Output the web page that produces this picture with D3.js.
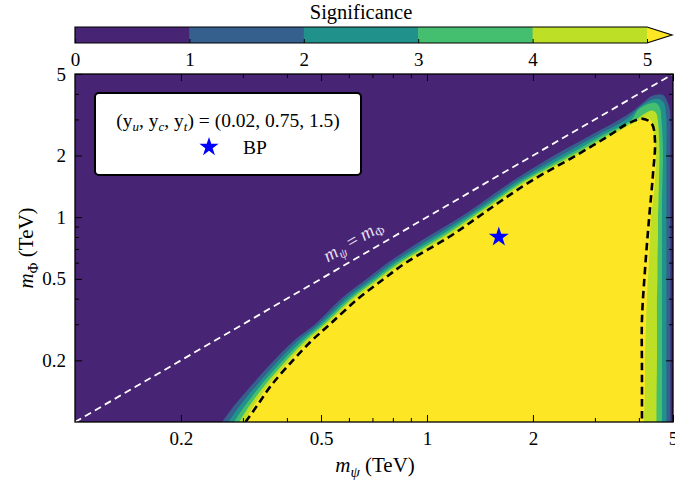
<!DOCTYPE html>
<html><head><meta charset="utf-8">
<script src="https://cdn.jsdelivr.net/npm/d3@7"></script>
<style>
body{margin:0;background:#fff}
svg{display:block}
text{font-family:"Liberation Serif","Times New Roman",serif;fill:#000}
</style>
</head><body>
<svg id="chart" width="675" height="483"></svg>
<script>
// ---- data ----
const sigLevels = [0, 1, 2, 3, 4, 5];
const bandColors = ["#482475", "#355f8d", "#21918c", "#44bf70", "#bddf26"];
const overColor = "#fde725";
const xMajorTicks = [0.2, 0.5, 1, 2, 5];
const xMinorTicks = [0.3, 0.4, 0.6, 0.7, 0.8, 0.9, 3, 4];
const yMajorTicks = [0.2, 0.5, 1, 2, 5];
const yMinorTicks = [0.3, 0.4, 0.6, 0.7, 0.8, 0.9, 3, 4];

// contour boundaries [m_psi, m_Phi] in TeV: region with significance >= level
const contourSig1 = [[0.262,0.1],[0.283,0.12],[0.316,0.15],[0.368,0.2],[0.419,0.25],[0.481,0.3],[0.570,0.4],[0.675,0.5],[0.775,0.6],[1.000,0.8],[1.241,1.0],[1.452,1.2],[1.750,1.5],[2.295,2.0],[2.904,2.5],[3.523,3.0],
  [3.848,3.3],[4.094,3.6],[4.357,3.9],[4.683,3.95],[4.838,3.6],[4.902,3.3],
  [4.918,3.0],[4.918,2.0],[4.918,1.0],[4.918,0.5],[4.918,0.2],[4.918,0.1]];
const contourSig2 = [[0.273,0.1],[0.294,0.12],[0.327,0.15],[0.379,0.2],[0.431,0.25],[0.492,0.3],[0.586,0.4],[0.695,0.5],[0.799,0.6],[1.039,0.8],[1.280,1.0],[1.496,1.2],[1.805,1.5],[2.401,2.0],[3.026,2.5],[3.676,3.0],
  [4.028,3.45],[4.329,3.73],[4.562,3.78],[4.713,3.61],[4.776,3.15],
  [4.791,3.0],[4.791,2.0],[4.791,1.0],[4.791,0.5],[4.791,0.2],[4.791,0.1]];
const contourSig3 = [[0.283,0.1],[0.304,0.12],[0.336,0.15],[0.390,0.2],[0.443,0.25],[0.502,0.3],[0.600,0.4],[0.712,0.5],[0.820,0.6],[1.074,0.8],[1.314,1.0],[1.535,1.2],[1.855,1.5],[2.498,2.0],[3.137,2.5],[3.810,3.0],
  [3.976,3.34],[4.245,3.57],[4.473,3.61],[4.592,3.41],[4.637,2.98],
  [4.667,2.5],[4.683,2.0],[4.667,1.5],[4.652,1.2],[4.652,0.8],[4.652,0.5],[4.652,0.3],[4.652,0.2],[4.652,0.1]];
const contourSig4 = [[0.293,0.1],[0.313,0.12],[0.345,0.15],[0.399,0.2],[0.452,0.25],[0.511,0.3],[0.612,0.4],[0.727,0.5],[0.839,0.6],[1.105,0.8],[1.343,1.0],[1.568,1.2],[1.898,1.5],[2.580,2.0],[3.233,2.5],[3.932,3.0],
  [4.135,3.19],[4.357,3.32],[4.473,3.23],[4.532,2.91],
  [4.562,2.5],[4.576,2.0],[4.562,1.5],[4.547,1.2],[4.532,1.0],[4.532,0.8],[4.517,0.6],[4.517,0.5],[4.502,0.4],[4.502,0.3],[4.502,0.2],[4.488,0.12],[4.488,0.1]];
const contourSig5 = [[0.302,0.1],[0.322,0.12],[0.353,0.15],[0.408,0.2],[0.462,0.25],[0.520,0.3],[0.624,0.4],[0.743,0.5],[0.857,0.6],[1.136,0.8],[1.373,1.0],[1.602,1.2],[1.942,1.5],[2.668,2.0],[3.332,2.5],[4.055,3.0],
  [4.217,3.07],[4.357,2.91],
  [4.414,2.5],[4.473,2.0],[4.444,1.5],[4.386,1.2],[4.329,1.0],[4.301,0.8],[4.272,0.6],[4.245,0.5],[4.217,0.4],[4.190,0.3],[4.176,0.25],[4.162,0.2],[4.162,0.15],[4.149,0.12],[4.135,0.1]];
const contourDashed = [[0.305,0.1],[0.329,0.12],[0.360,0.15],[0.416,0.2],[0.471,0.25],[0.530,0.3],[0.637,0.4],[0.755,0.5],[0.872,0.6],[1.155,0.8],[1.396,1.0],[1.623,1.2],[1.974,1.5],[2.650,2.0],[3.289,2.5],[3.700,2.85],[4.108,3.02],[4.357,2.85],[4.444,2.35],[4.386,1.62],[4.272,0.97],[4.162,0.55],[4.081,0.315],[4.081,0.18],[4.081,0.1]];
const diagonal = [[0.1,0.1],[5,5]];
const benchmark = [1.6, 0.8];
const couplingText = "(0.02, 0.75, 1.5)";

// ---- drawing ----
const svg = d3.select("#chart");
const SERIF = '"Liberation Serif","Times New Roman",serif';
const plot = {left: 75, right: 673, top: 74, bottom: 422};
const x = d3.scaleLog().domain([0.1, 5]).range([plot.left, plot.right]);
const y = d3.scaleLog().domain([0.1, 5]).range([plot.bottom, plot.top]);

svg.append("defs").append("clipPath").attr("id","clip")
  .append("rect").attr("x",plot.left).attr("y",plot.top)
  .attr("width",plot.right-plot.left).attr("height",plot.bottom-plot.top);

const g = svg.append("g").attr("clip-path","url(#clip)");
g.append("rect").attr("x",plot.left).attr("y",plot.top)
  .attr("width",plot.right-plot.left).attr("height",plot.bottom-plot.top)
  .attr("fill", bandColors[0]);

const smooth = d3.line().x(d => x(d[0])).y(d => y(d[1])).curve(d3.curveCatmullRom.alpha(0.5));
const straight = d3.line().x(d => x(d[0])).y(d => y(d[1]));
const contours = [contourSig1, contourSig2, contourSig3, contourSig4, contourSig5];
const fills = [bandColors[1], bandColors[2], bandColors[3], bandColors[4], overColor];
contours.forEach((c, i) => {
  g.append("path").attr("d", smooth(c) + "Z").attr("fill", fills[i]);
});

// diagonal m_psi = m_Phi
g.append("path").attr("d", straight(diagonal)).attr("fill","none")
  .attr("stroke","#fff").attr("stroke-width",1.8).attr("stroke-dasharray","7,4.5");

// dashed contour
g.append("path").attr("d", smooth(contourDashed)).attr("fill","none")
  .attr("stroke","#000").attr("stroke-width",2.6).attr("stroke-dasharray","7.5,4.5");

// benchmark star
const star = d3.symbol().type(d3.symbolStar).size(125);
g.append("path").attr("d", star())
  .attr("transform", `translate(${x(benchmark[0])},${y(benchmark[1])})`)
  .attr("fill","#0000ff");

// label on diagonal
{
  const lx = 356, ly = 246;
  const ang = -Math.atan((plot.bottom-plot.top)/(plot.right-plot.left))*180/Math.PI;
  const c = "#e4def0";
  const t = svg.append("text").attr("transform",`translate(${lx},${ly}) rotate(${ang})`)
    .attr("text-anchor","middle").style("font-size","19px").style("fill",c);
  t.append("tspan").style("font-style","italic").style("fill",c).text("m");
  t.append("tspan").style("font-size","13px").style("font-style","italic").attr("dy",4).style("fill",c).text("ψ");
  t.append("tspan").attr("dy",-4).style("fill",c).text(" = ");
  t.append("tspan").style("font-style","italic").style("fill",c).text("m");
  t.append("tspan").style("font-size","13px").attr("dy",4).style("fill",c).text("Φ");
}

// axes
function styleAxis(sel) {
  sel.select(".domain").remove();
  sel.selectAll(".tick line").attr("stroke","#000").attr("stroke-width",1);
  sel.selectAll(".tick text").style("font-family",SERIF).style("font-size","19px").attr("fill","#000");
}
const fmt = d => String(d);
svg.append("g").attr("transform",`translate(0,${plot.bottom})`)
  .call(d3.axisBottom(x).tickValues(xMajorTicks).tickFormat(fmt).tickSizeInner(-7).tickSizeOuter(0).tickPadding(10)).call(styleAxis);
svg.append("g").attr("transform",`translate(0,${plot.bottom})`)
  .call(d3.axisBottom(x).tickValues(xMinorTicks).tickFormat("").tickSizeInner(-4).tickSizeOuter(0)).call(styleAxis);
svg.append("g").attr("transform",`translate(0,${plot.top})`)
  .call(d3.axisTop(x).tickValues(xMajorTicks).tickFormat("").tickSizeInner(-7).tickSizeOuter(0)).call(styleAxis);
svg.append("g").attr("transform",`translate(0,${plot.top})`)
  .call(d3.axisTop(x).tickValues(xMinorTicks).tickFormat("").tickSizeInner(-4).tickSizeOuter(0)).call(styleAxis);
svg.append("g").attr("transform",`translate(${plot.left},0)`)
  .call(d3.axisLeft(y).tickValues(yMajorTicks).tickFormat(fmt).tickSizeInner(-7).tickSizeOuter(0).tickPadding(9)).call(styleAxis);
svg.append("g").attr("transform",`translate(${plot.left},0)`)
  .call(d3.axisLeft(y).tickValues(yMinorTicks).tickFormat("").tickSizeInner(-4).tickSizeOuter(0)).call(styleAxis);
svg.append("g").attr("transform",`translate(${plot.right},0)`)
  .call(d3.axisRight(y).tickValues(yMajorTicks).tickFormat("").tickSizeInner(-7).tickSizeOuter(0)).call(styleAxis);
svg.append("g").attr("transform",`translate(${plot.right},0)`)
  .call(d3.axisRight(y).tickValues(yMinorTicks).tickFormat("").tickSizeInner(-4).tickSizeOuter(0)).call(styleAxis);

// frame
svg.append("rect").attr("x",plot.left).attr("y",plot.top)
  .attr("width",plot.right-plot.left).attr("height",plot.bottom-plot.top)
  .attr("fill","none").attr("stroke","#000").attr("stroke-width",1.3);

// axis labels
{
  const t = svg.append("text").attr("x",375).attr("y",472)
    .attr("text-anchor","middle").style("font-size","21px");
  t.append("tspan").style("font-style","italic").text("m");
  t.append("tspan").style("font-size","15px").style("font-style","italic").attr("dy",5).text("ψ");
  t.append("tspan").attr("dy",-5).text(" (TeV)");
}
{
  const t = svg.append("text").attr("transform",`translate(33,248) rotate(-90)`)
    .attr("text-anchor","middle").style("font-size","21px");
  t.append("tspan").style("font-style","italic").text("m");
  t.append("tspan").style("font-size","15px").attr("dy",5).text("Φ");
  t.append("tspan").attr("dy",-5).text(" (TeV)");
}

// legend box
{
  const lg = svg.append("g");
  lg.append("rect").attr("x",95).attr("y",93).attr("width",266).attr("height",82)
    .attr("rx",4).attr("fill","#fff").attr("stroke","#000").attr("stroke-width",2);
  const t = lg.append("text").attr("x",228).attr("y",127).attr("text-anchor","middle").style("font-size","19.5px");
  t.append("tspan").text("(y");
  t.append("tspan").style("font-style","italic").style("font-size","13px").attr("dy",4).text("u");
  t.append("tspan").attr("dy",-4).text(", y");
  t.append("tspan").style("font-style","italic").style("font-size","13px").attr("dy",4).text("c");
  t.append("tspan").attr("dy",-4).text(", y");
  t.append("tspan").style("font-style","italic").style("font-size","13px").attr("dy",4).text("t");
  t.append("tspan").attr("dy",-4).text(") = " + couplingText);
  lg.append("path").attr("d", d3.symbol().type(d3.symbolStar).size(115)())
    .attr("transform","translate(209,147)").attr("fill","#0000ff");
  lg.append("text").attr("x",243).attr("y",154).style("font-size","19.5px").text("BP");
}

// colorbar
{
  const cb = {left: 75, right: 647, top: 27, bottom: 43, tip: 672};
  const cx = d3.scaleLinear().domain([sigLevels[0], sigLevels[sigLevels.length-1]]).range([cb.left, cb.right]);
  const cg = svg.append("g");
  for (let i = 0; i < sigLevels.length - 1; i++) {
    cg.append("rect").attr("x", cx(sigLevels[i])).attr("y", cb.top)
      .attr("width", cx(sigLevels[i+1]) - cx(sigLevels[i]) + 0.5).attr("height", cb.bottom - cb.top)
      .attr("fill", bandColors[i]);
  }
  const mid = (cb.top + cb.bottom) / 2;
  cg.append("path").attr("d",`M${cb.right},${cb.top}L${cb.tip},${mid}L${cb.right},${cb.bottom}Z`).attr("fill", overColor);
  cg.append("path").attr("d",`M${cb.left},${cb.top}H${cb.right}L${cb.tip},${mid}L${cb.right},${cb.bottom}H${cb.left}Z`)
    .attr("fill","none").attr("stroke","#000").attr("stroke-width",1.2);
  const ax = cg.append("g").attr("transform",`translate(0,${cb.bottom})`)
    .call(d3.axisBottom(cx).tickValues(sigLevels).tickFormat(d3.format("d")).tickSizeInner(-4).tickSizeOuter(0).tickPadding(10));
  styleAxis(ax);
  svg.append("text").attr("x", (cb.left + cb.right) / 2).attr("y", 19).attr("text-anchor","middle")
    .style("font-size","20.5px").text("Significance");
}
</script>
</body></html>
